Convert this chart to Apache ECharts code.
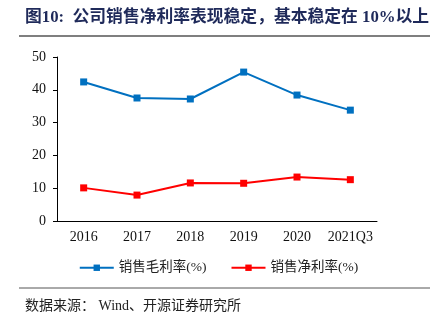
<!DOCTYPE html>
<html><head><meta charset="utf-8">
<script src="https://cdn.jsdelivr.net/npm/echarts@6/dist/echarts.min.js"></script>
<style>html,body{margin:0;padding:0;background:#fff}#c{width:437px;height:323px}</style>
</head><body><div id="c"></div>
<script>
var categories = ['2016','2017','2018','2019','2020','2021Q3'];
var grossMargin = [42.4, 37.5, 37.2, 45.4, 38.4, 33.8];
var netMargin = [10.1, 7.9, 11.6, 11.5, 13.4, 12.6];
var yTicks = [0, 10, 20, 30, 40, 50];

var chart = echarts.init(document.getElementById('c'));
var serif = '"Liberation Serif","Times New Roman","Noto Sans CJK SC",serif';
chart.setOption({
  animation: false,
  title: [{
    text: '图10:  公司销售净利率表现稳定，基本稳定在 10%以上',
    left: 20, top: 4,
    textStyle: {fontSize: 16.8, fontWeight: 'bold', color: '#1f2a5a', fontFamily: '"Liberation Serif","Noto Sans CJK SC",serif'}
  }, {
    text: '数据来源： Wind、开源证券研究所',
    left: 20, top: 294,
    textStyle: {fontSize: 14, fontWeight: 'normal', color: '#222', fontFamily: '"Liberation Serif","Noto Sans CJK SC",serif'}
  }],
  graphic: [
    {type: 'line', shape: {x1: 19, y1: 36, x2: 430, y2: 36}, style: {stroke: '#555', lineWidth: 1.5}},
    {type: 'line', shape: {x1: 19, y1: 288, x2: 430, y2: 288}, style: {stroke: '#555', lineWidth: 1}}
  ],
  legend: {
    top: 256, left: 'center', itemGap: 24, itemWidth: 34, itemHeight: 8,
    textStyle: {fontSize: 13.5, color: '#222', fontFamily: serif},
    data: ['销售毛利率(%)', '销售净利率(%)']
  },
  grid: {left: 57, right: 60, top: 57, bottom: 102},
  xAxis: {
    type: 'category', data: categories, boundaryGap: true,
    axisLine: {lineStyle: {color: '#000', width: 1}},
    axisTick: {inside: true, length: 4, lineStyle: {color: '#000'}},
    axisLabel: {fontSize: 14, color: '#111', fontFamily: serif, margin: 9, interval: 0}
  },
  yAxis: {
    type: 'value', min: yTicks[0], max: yTicks[yTicks.length - 1], interval: 10,
    axisLine: {show: true, lineStyle: {color: '#000', width: 1}},
    axisTick: {show: true, length: 4, lineStyle: {color: '#000'}},
    splitLine: {show: false},
    axisLabel: {fontSize: 14, color: '#111', fontFamily: serif, margin: 11}
  },
  series: [{
    name: '销售毛利率(%)', type: 'line', data: grossMargin,
    symbol: 'rect', symbolSize: 7, color: '#0070c0',
    lineStyle: {width: 2, color: '#0070c0'}, itemStyle: {color: '#0070c0'}
  }, {
    name: '销售净利率(%)', type: 'line', data: netMargin,
    symbol: 'rect', symbolSize: 7, color: '#ff0000',
    lineStyle: {width: 2, color: '#ff0000'}, itemStyle: {color: '#ff0000'}
  }]
});
</script></body></html>
